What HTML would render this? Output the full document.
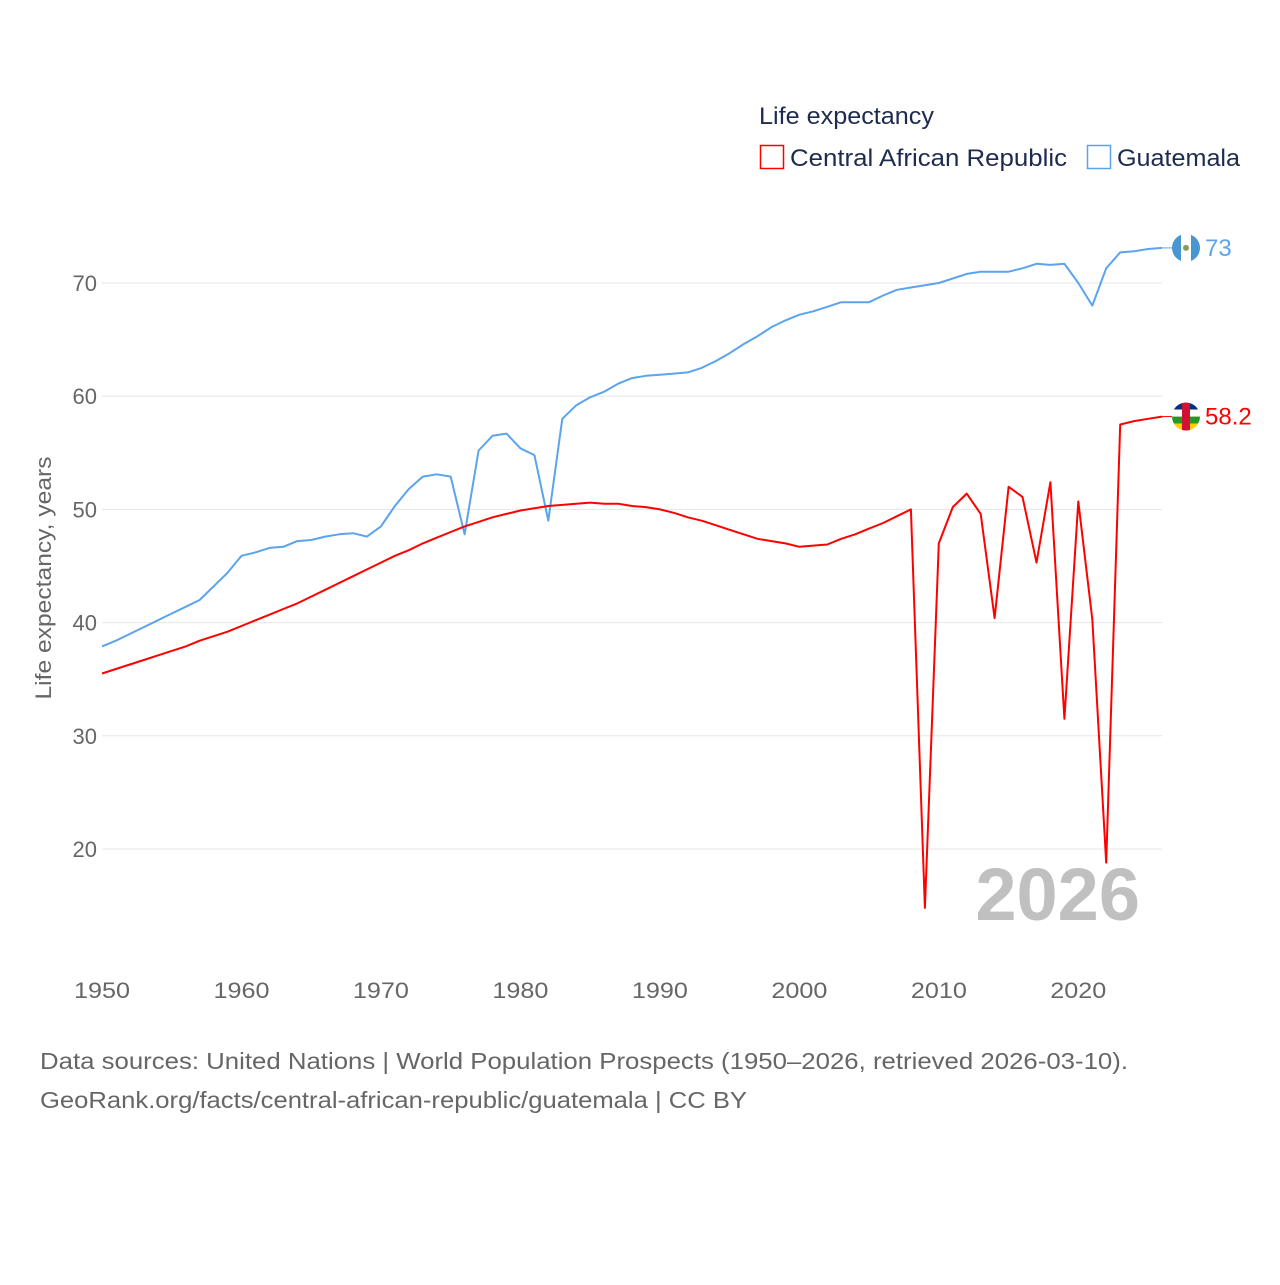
<!DOCTYPE html>
<html><head><meta charset="utf-8"><style>
body{margin:0;background:#fff;width:1280px;height:1280px;overflow:hidden;font-family:"Liberation Sans",sans-serif}
svg text{font-family:"Liberation Sans",sans-serif}
</style></head><body>
<svg id="chart" width="1280" height="1280" xmlns="http://www.w3.org/2000/svg">
<defs><clipPath id="c1"><circle cx="1186" cy="0" r="14"/></clipPath></defs>
<text x="759" y="124" font-size="24" fill="#1d2b4f" textLength="175" lengthAdjust="spacingAndGlyphs">Life expectancy</text>
<rect x="760.5" y="145.5" width="23" height="23" fill="none" stroke="#ff0000" stroke-width="1.5"/>
<text x="790" y="166" font-size="24" fill="#1d2b4f" textLength="277" lengthAdjust="spacingAndGlyphs">Central African Republic</text>
<rect x="1087.5" y="145.5" width="23" height="23" fill="none" stroke="#5ba4ec" stroke-width="1.5"/>
<text x="1117" y="166" font-size="24" fill="#1d2b4f" textLength="123" lengthAdjust="spacingAndGlyphs">Guatemala</text>
<g id="grid"></g>
<g id="xticks"></g>
<text transform="translate(51,578) rotate(-90)" text-anchor="middle" font-size="22" fill="#666" textLength="243" lengthAdjust="spacingAndGlyphs">Life expectancy, years</text>
<text x="1140" y="920" text-anchor="end" font-size="74" font-weight="bold" fill="#c0c0c0">2026</text>
<g id="series"></g>
<text x="40" y="1069" font-size="23" fill="#666" textLength="1088" lengthAdjust="spacingAndGlyphs">Data sources: United Nations | World Population Prospects (1950–2026, retrieved 2026-03-10).</text>
<text x="40" y="1108" font-size="23" fill="#666" textLength="707" lengthAdjust="spacingAndGlyphs">GeoRank.org/facts/central-african-republic/guatemala | CC BY</text>
</svg>
<script>
const years=[];for(let y=1950;y<=2026;y++)years.push(y);
const yTicks=[20,30,40,50,60,70];
const xTicks=[1950,1960,1970,1980,1990,2000,2010,2020];
const guatemala=[37.9,38.4,39.0,39.6,40.2,40.8,41.4,42.0,43.2,44.4,45.9,46.2,46.6,46.7,47.2,47.3,47.6,47.8,47.9,47.6,48.5,50.3,51.8,52.9,53.1,52.9,47.8,55.2,56.5,56.7,55.4,54.8,49.0,58.0,59.2,59.9,60.4,61.1,61.6,61.8,61.9,62.0,62.1,62.5,63.1,63.8,64.6,65.3,66.1,66.7,67.2,67.5,67.9,68.3,68.3,68.3,68.9,69.4,69.6,69.8,70.0,70.4,70.8,71.0,71.0,71.0,71.3,71.7,71.6,71.7,70.0,68.0,71.3,72.7,72.8,73.0,73.1];
const car=[35.5,35.9,36.3,36.7,37.1,37.5,37.9,38.4,38.8,39.2,39.7,40.2,40.7,41.2,41.7,42.3,42.9,43.5,44.1,44.7,45.3,45.9,46.4,47.0,47.5,48.0,48.5,48.9,49.3,49.6,49.9,50.1,50.3,50.4,50.5,50.6,50.5,50.5,50.3,50.2,50.0,49.7,49.3,49.0,48.6,48.2,47.8,47.4,47.2,47.0,46.7,46.8,46.9,47.4,47.8,48.3,48.8,49.4,50.0,14.8,47.0,50.2,51.4,49.6,40.4,52.0,51.1,45.3,52.4,31.5,50.7,40.3,18.8,57.5,57.8,58.0,58.2];
const endLabels=["73","58.2"];
const X=y=>102+(y-1950)*(1162-102)/76;
const Y=v=>849-(v-20)*11.32;
const NS="http://www.w3.org/2000/svg";
function mk(tag,attrs,parent){const e=document.createElementNS(NS,tag);for(const k in attrs)e.setAttribute(k,attrs[k]);parent.appendChild(e);return e;}
const grid=document.getElementById('grid');
yTicks.forEach(t=>{
 const l=mk('line',{x1:102,x2:1162,y1:Y(t),y2:Y(t),stroke:'#e6e6e6','stroke-width':1},grid);
 
 
 const tx=mk('text',{x:97,y:Y(t)+8,'text-anchor':'end','font-size':22,fill:'#666'},grid);
 tx.textContent=t;
 
 
});
const xt=document.getElementById('xticks');
xTicks.forEach(t=>{
 const tx=mk('text',{x:X(t),y:998,'text-anchor':'middle','font-size':22,fill:'#666',textLength:56,lengthAdjust:'spacingAndGlyphs'},xt);
 tx.textContent=t;
 
 
});
const g=document.getElementById('series');
function draw(vals,color,name,label,flag){
 const d=vals.map((v,i)=>(i?'L':'M')+X(years[i]).toFixed(1)+','+Y(v).toFixed(1)).join('');
 const p=mk('path',{d:d,fill:'none',stroke:color,'stroke-width':2,'stroke-linejoin':'round'},g);
 
 
 const last=vals[vals.length-1],ex=X(years[years.length-1]),ey=Y(last);
 mk('line',{x1:ex,x2:1172,y1:ey,y2:ey,stroke:color,'stroke-width':1},g);
 const outer=mk('g',{transform:`translate(0,${ey})`},g);
 const c=mk('g',{'clip-path':'url(#c1)'},outer);
 
 
 if(flag==='gt'){
  mk('rect',{x:1172,y:-14,width:28,height:28,fill:'#fff'},c);
  mk('rect',{x:1172,y:-14,width:9,height:28,fill:'#4997d0'},c);
  mk('rect',{x:1191,y:-14,width:9,height:28,fill:'#4997d0'},c);
  mk('circle',{cx:1186,cy:0,r:3,fill:'#8a9a5b'},c);
 } else {
  mk('rect',{x:1172,y:-14,width:28,height:7,fill:'#003082'},c);
  mk('rect',{x:1172,y:-7,width:28,height:7,fill:'#fff'},c);
  mk('rect',{x:1172,y:0,width:28,height:7,fill:'#289728'},c);
  mk('rect',{x:1172,y:7,width:28,height:7,fill:'#ffce00'},c);
  mk('rect',{x:1182,y:-14,width:8,height:28,fill:'#d21034'},c);
 }
 const t=mk('text',{x:1205,y:ey+8,'font-size':24,fill:color},g);
 t.textContent=label;
 
 
}
draw(guatemala,'#5ba4ec','guatemala',endLabels[0],'gt');
draw(car,'#ff0000','car',endLabels[1],'car');
</script>
</body></html>
